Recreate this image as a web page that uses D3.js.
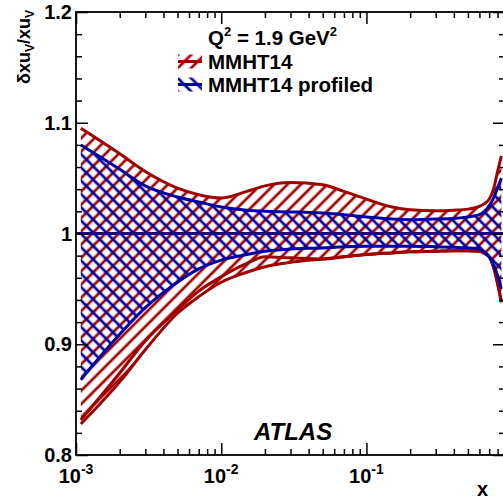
<!DOCTYPE html>
<html><head><meta charset="utf-8">
<script src="https://cdn.jsdelivr.net/npm/d3@7"></script>
<style>
body{margin:0;background:#fff;}
text{font-family:"Liberation Sans",Arial,Helvetica,sans-serif;font-weight:bold;fill:#000;}
</style>
</head><body>
<svg id="c" width="503" height="499"></svg>
<script>
// ---- data ----
const xVals       = [0.00108,0.002,0.003,0.005,0.007,0.01,0.015,0.02,0.03,0.05,0.07,0.1,0.15,0.2,0.3,0.4,0.5,0.6,0.65,0.7,0.75,0.8,0.85];
const redUpper    = [1.095,1.072,1.056,1.041,1.035,1.032,1.038,1.043,1.046,1.044,1.038,1.031,1.024,1.0215,1.0205,1.021,1.022,1.0245,1.027,1.031,1.040,1.056,1.070];
const redLower    = [0.828,0.866,0.895,0.928,0.943,0.956,0.965,0.970,0.974,0.977,0.979,0.981,0.9825,0.9835,0.984,0.9845,0.9845,0.984,0.982,0.979,0.970,0.955,0.938];
const redLowerAlt = [0.8316,0.874,0.903,0.931,0.948,0.961,0.973,0.979,0.978,0.977,0.979,0.981,0.9825,0.9835,0.984,0.9845,0.9845,0.984,0.982,0.979,0.970,0.955,0.938];
const blueUpper   = [1.080,1.058,1.043,1.033,1.0285,1.024,1.021,1.020,1.0195,1.0185,1.017,1.015,1.013,1.0125,1.013,1.0135,1.015,1.017,1.020,1.025,1.032,1.041,1.050];
const blueLower   = [0.868,0.909,0.933,0.956,0.968,0.976,0.981,0.984,0.986,0.987,0.988,0.9885,0.9885,0.9885,0.988,0.9875,0.987,0.986,0.983,0.979,0.972,0.962,0.950];
const centralValue = 1.0;
const yMajorTicks = [0.8,0.9,1.0,1.1,1.2];
const yTickLabels = ["0.8","0.9","1","1.1","1.2"];
const xMajorTicks = [0.001,0.01,0.1];
const xTickExps   = ["-3","-2","-1"];
const legendTitle = ["Q","2"," = 1.9 GeV","2"];
const legendLabels = ["MMHT14","MMHT14 profiled"];
const experimentLabel = "ATLAS";

// ---- layout ----
const red = "#a00000", blue = "#0000a8";
const L = 76, R = 505, T = 12, B = 455;
const svg = d3.select("#c");
const x = d3.scaleLog().domain([0.001, 0.9]).range([L, R]);
const y = d3.scaleLinear().domain([0.8, 1.2]).range([B, T]);

const defs = svg.append("defs");
function hatch(id, color, angle){
  const p = defs.append("pattern").attr("id", id).attr("patternUnits","userSpaceOnUse")
    .attr("width", 10).attr("height", 9.4).attr("patternTransform", `rotate(${angle})`);
  p.append("line").attr("x1",-1).attr("x2",11).attr("y1",4.7).attr("y2",4.7)
    .attr("stroke", color).attr("stroke-width", 2.7);
}
hatch("hRed", red, -45);
hatch("hBlue", blue, 45);
defs.append("clipPath").attr("id","plotClip").append("rect")
  .attr("x",L).attr("y",T).attr("width",R-L).attr("height",B-T);

const idx = d3.range(xVals.length);
const curve = d3.curveMonotoneX;
const area = (up, lo) => d3.area().curve(curve).x(i => x(xVals[i])).y0(i => y(lo[i])).y1(i => y(up[i]))(idx);
const line = (arr) => d3.line().curve(curve).x(i => x(xVals[i])).y(i => y(arr[i]))(idx);

const g = svg.append("g").attr("clip-path","url(#plotClip)");
g.append("path").attr("d", area(redUpper, redLower)).attr("fill","url(#hRed)");
g.append("path").attr("d", area(blueUpper, blueLower)).attr("fill","url(#hBlue)");
[redUpper, redLower, redLowerAlt].forEach(a =>
  g.append("path").attr("d", line(a)).attr("fill","none").attr("stroke",red).attr("stroke-width",3));
[blueUpper, blueLower].forEach(a =>
  g.append("path").attr("d", line(a)).attr("fill","none").attr("stroke",blue).attr("stroke-width",3));
g.append("line").attr("x1",L).attr("x2",R).attr("y1",y(centralValue)).attr("y2",y(centralValue))
  .attr("stroke",red).attr("stroke-width",3);
g.append("line").attr("x1",L).attr("x2",R).attr("y1",y(centralValue)).attr("y2",y(centralValue))
  .attr("stroke",blue).attr("stroke-width",2.4);

// ---- axes ----
const xMinor = [];
xMajorTicks.forEach(d => { for (let k=2;k<=9;k++){ const v=d*k; if (v<=0.9) xMinor.push(v);} });
const yMinor = d3.range(0.8, 1.2001, 0.02).filter(v => !yMajorTicks.some(m => Math.abs(m-v)<1e-6));
function styleAxis(sel){ sel.select(".domain").remove(); sel.selectAll("text").remove();
  sel.selectAll("line").attr("stroke","#000").attr("stroke-width",1.5); }
svg.append("g").attr("transform",`translate(0,${B})`).call(d3.axisBottom(x).tickValues(xMajorTicks).tickSize(-12)).call(styleAxis);
svg.append("g").attr("transform",`translate(0,${B})`).call(d3.axisBottom(x).tickValues(xMinor).tickSize(-6)).call(styleAxis);
svg.append("g").attr("transform",`translate(0,${T})`).call(d3.axisTop(x).tickValues(xMajorTicks).tickSize(-12)).call(styleAxis);
svg.append("g").attr("transform",`translate(0,${T})`).call(d3.axisTop(x).tickValues(xMinor).tickSize(-6)).call(styleAxis);
svg.append("g").attr("transform",`translate(${L},0)`).call(d3.axisLeft(y).tickValues(yMajorTicks).tickSize(-12)).call(styleAxis);
svg.append("g").attr("transform",`translate(${L},0)`).call(d3.axisLeft(y).tickValues(yMinor).tickSize(-6)).call(styleAxis);
svg.append("g").attr("transform",`translate(${R},0)`).call(d3.axisRight(y).tickValues(yMajorTicks).tickSize(-12)).call(styleAxis);
svg.append("g").attr("transform",`translate(${R},0)`).call(d3.axisRight(y).tickValues(yMinor).tickSize(-6)).call(styleAxis);
svg.append("rect").attr("x",L).attr("y",T).attr("width",R-L).attr("height",B-T)
  .attr("fill","none").attr("stroke","#000").attr("stroke-width",1.8);

// y labels
yMajorTicks.forEach((v,i) => {
  svg.append("text").attr("x", L-4).attr("y", y(v)).attr("dy","0.36em").attr("text-anchor","end")
    .attr("font-size",20).text(yTickLabels[i]);
});
// x labels
xMajorTicks.forEach((v,i) => {
  const t = svg.append("text").attr("x", x(v)).attr("y", 483).attr("text-anchor","middle").attr("font-size",20);
  t.append("tspan").text("10");
  t.append("tspan").attr("font-size",14).attr("dy",-9).text(xTickExps[i]);
});
// axis titles
svg.append("text").attr("x", 488).attr("y", 496).attr("text-anchor","end").attr("font-size",20).text("x");
const yt = svg.append("text").attr("transform","translate(30,10) rotate(-90)").attr("text-anchor","end").attr("font-size",18);
yt.append("tspan").text("\u03B4xu");
yt.append("tspan").attr("font-size",12).attr("dy",4).text("V");
yt.append("tspan").attr("dy",-4).text("/xu");
yt.append("tspan").attr("font-size",12).attr("dy",4).text("V");

// legend
const lt = svg.append("text").attr("x",208).attr("y",45).attr("font-size",20.5);
lt.append("tspan").text(legendTitle[0]);
lt.append("tspan").attr("font-size",13).attr("dy",-9).text(legendTitle[1]);
lt.append("tspan").attr("dy",9).text(legendTitle[2]);
lt.append("tspan").attr("font-size",13).attr("dy",-9).text(legendTitle[3]);
const legColors = [red, blue], legFills = ["url(#hRed)","url(#hBlue)"], legY = [68.5, 91.5];
legendLabels.forEach((lab,i) => {
  const cy = legY[i] - 7;
  svg.append("rect").attr("x",178).attr("y",cy-7).attr("width",24).attr("height",14).attr("fill",legFills[i]);
  svg.append("line").attr("x1",178).attr("x2",202).attr("y1",cy).attr("y2",cy).attr("stroke",legColors[i]).attr("stroke-width",3);
  svg.append("text").attr("x",208).attr("y",legY[i]).attr("font-size",20.5).text(lab);
});
svg.append("text").attr("x",254).attr("y",440).attr("font-size",24).attr("font-style","italic").text(experimentLabel);
</script>
</body></html>
